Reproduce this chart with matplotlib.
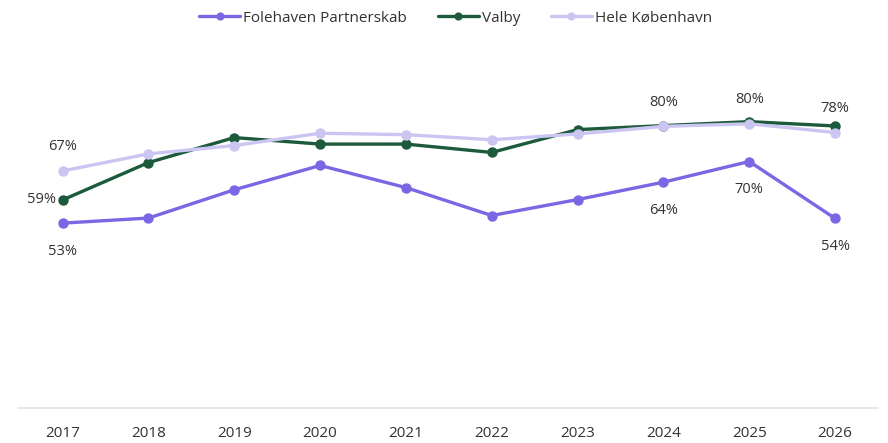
import matplotlib.pyplot as plt

plt.rcParams['font.family'] = ['Open Sans', 'DejaVu Sans']

# data
years = [2017, 2018, 2019, 2020, 2021, 2022, 2023, 2024, 2025, 2026]
folehaven = [53.0, 54.4, 62.2, 68.9, 62.8, 55.1, 59.5, 64.3, 70.0, 54.3]
valby = [59.4, 69.7, 76.6, 74.8, 74.8, 72.5, 78.8, 79.9, 81.0, 79.8]
hele_kbh = [67.4, 72.1, 74.4, 77.8, 77.4, 76.0, 77.6, 79.7, 80.4, 78.0]

series_names = ['Folehaven Partnerskab', 'Valby', 'Hele København']
colors = ['#7C66E3', '#1C5A3B', '#CBC5F2']
txt = '#333333'

# which points get a label
fole_lab = [2017, 2024, 2025, 2026]
hele_lab = [2017, 2024, 2025, 2026]
valby_lab = [2017]

fig = plt.figure(figsize=(8.88, 4.43), dpi=100)
ax = fig.add_axes([18 / 888, 1 - 408 / 443, (878 - 18) / 888, (408 - 60) / 443])

for vals, name, c in zip([folehaven, valby, hele_kbh], series_names, colors):
    ax.plot(years, vals, color=c, lw=2.4, marker='o', ms=6.5, label=name,
            solid_capstyle='round')

for x, v in zip(years, folehaven):
    if x in fole_lab:
        ax.annotate(f'{v:.0f}%', (x, v), xytext=(0, -15), textcoords='offset points',
                    ha='center', va='top', fontsize=10.5, color=txt)
for x, v in zip(years, hele_kbh):
    if x in hele_lab:
        ax.annotate(f'{v:.0f}%', (x, v), xytext=(0, 12), textcoords='offset points',
                    ha='center', va='bottom', fontsize=10.5, color=txt)
for x, v in zip(years, valby):
    if x in valby_lab:
        ax.annotate(f'{v:.0f}%', (x, v), xytext=(-5, 0), textcoords='offset points',
                    ha='right', va='center', fontsize=10.5, color=txt)

ax.set_xlim(2016.48, 2026.5)
ax.set_ylim(2, 98)
ax.set_xticks(years)
ax.set_xticklabels([str(y) for y in years], fontsize=11, color=txt)
ax.set_yticks([])
for s in ['top', 'right', 'left']:
    ax.spines[s].set_visible(False)
ax.spines['bottom'].set_color('#E3E3E3')
ax.spines['bottom'].set_linewidth(1.2)
ax.tick_params(axis='x', length=0, pad=13)

fig.legend(loc='center', bbox_to_anchor=(0.513, 1 - 18 / 443), ncol=3, frameon=False,
           fontsize=11, handlelength=2.7, columnspacing=2.0, handletextpad=0.2,
           markerscale=0.75, labelcolor=txt)

fig.savefig('out.png', dpi=100)
